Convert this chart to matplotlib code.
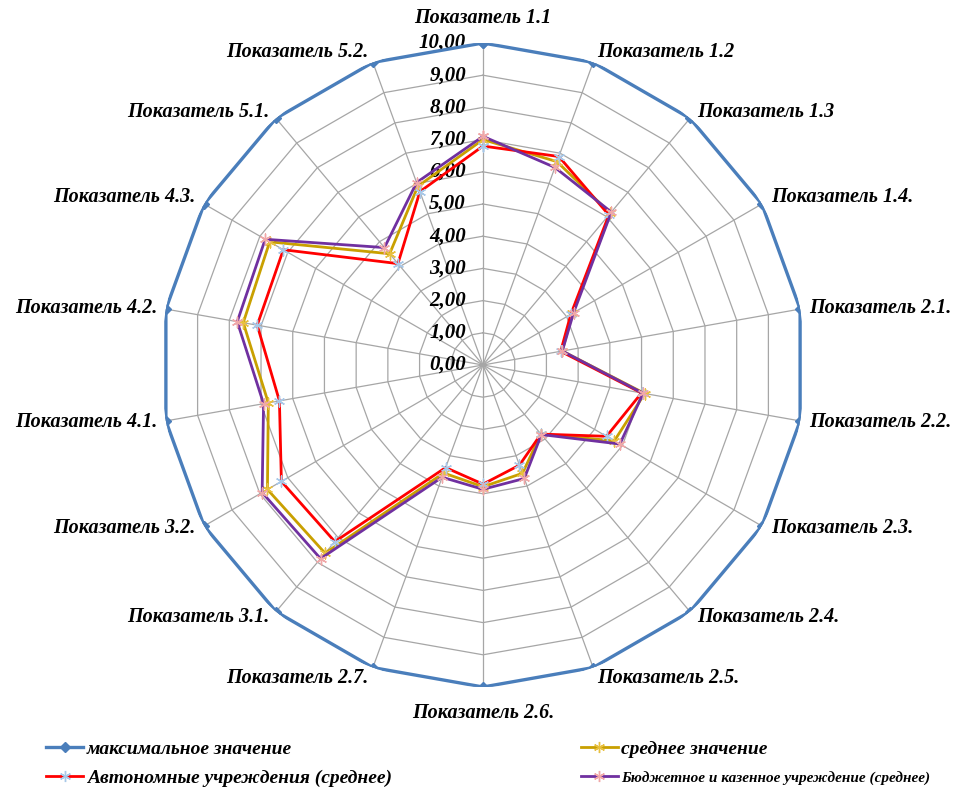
import numpy as np
import matplotlib.pyplot as plt
from matplotlib.lines import Line2D

categories = ["Показатель 1.1", "Показатель 1.2", "Показатель 1.3", "Показатель 1.4.",
              "Показатель 2.1.", "Показатель 2.2.", "Показатель 2.3.", "Показатель 2.4.",
              "Показатель 2.5.", "Показатель 2.6.", "Показатель 2.7.", "Показатель 3.1.",
              "Показатель 3.2.", "Показатель 4.1.", "Показатель 4.2.", "Показатель 4.3.",
              "Показатель 5.1.", "Показатель 5.2."]

max_vals = [10] * 18
avg_vals = [7.0, 6.72, 6.15, 3.2, 2.5, 5.1, 4.71, 2.8, 3.58, 3.78, 3.57, 7.63,
            7.73, 6.77, 7.56, 7.65, 4.51, 5.91]
auto_vals = [6.8, 6.89, 6.08, 3.15, 2.45, 5.0, 4.43, 2.8, 3.31, 3.7, 3.39, 7.16,
             7.23, 6.42, 7.12, 7.16, 4.11, 5.73]
budget_vals = [7.1, 6.53, 6.2, 3.25, 2.5, 5.05, 4.91, 2.82, 3.75, 3.86, 3.71, 7.85,
               7.92, 6.92, 7.75, 7.81, 4.76, 6.03]

levels = list(range(0, 11))
level_labels = ["%d,00" % v for v in levels]

series_names = ["максимальное значение", "среднее значение",
                "Автономные учреждения (среднее)",
                "Бюджетное и казенное учреждение (среднее)"]

n = len(categories)
angles = np.arange(n) * 2 * np.pi / n
closed = np.append(angles, angles[0])

def close(v):
    return list(v) + [v[0]]

fig = plt.figure(figsize=(9.55, 7.89), dpi=100)
ax = fig.add_axes([161 / 955, 102 / 789, 644 / 955, 644 / 789], projection="polar")
ax.set_theta_zero_location("N")
ax.set_theta_direction(-1)
ax.set_ylim(0, 10)
ax.grid(False)
ax.spines["polar"].set_visible(False)
ax.set_xticks([])
ax.set_yticks([])
ax.patch.set_alpha(0)

gray = "#a6a6a6"
for lv in levels[1:]:
    ax.plot(closed, [lv] * (n + 1), color=gray, lw=0.9, zorder=1)
for a in angles:
    ax.plot([a, a], [0, 10], color=gray, lw=0.9, zorder=1)

serif = "Liberation Serif"
for lv, lab in zip(levels, level_labels):
    ax.annotate(lab, (0, lv), xytext=(-17, 0), textcoords="offset pixels",
                ha="right", va="center", fontsize=15, fontweight="bold",
                fontstyle="italic", family=serif, zorder=2)

asterisk = (6, 2, 0)
ax.plot(closed, close(max_vals), color="#4a7ebb", lw=2.4, marker="D", ms=5.5,
        mfc="#4a7ebb", mec="#4a7ebb", zorder=5)
ax.plot(closed, close(avg_vals), color="#c9a000", lw=2.0, marker=asterisk, ms=8,
        mec="#e8c040", zorder=4)
ax.plot(closed, close(auto_vals), color="#ff0000", lw=2.0, marker=asterisk, ms=8,
        mec="#a8c8e8", zorder=4)
ax.plot(closed, close(budget_vals), color="#7030a0", lw=2.0, marker=asterisk, ms=8,
        mec="#f0a8a8", zorder=4)

# category labels outside the outer ring
offsets = {0: (0, 25), 1: (4, 10), 2: (7, 6), 3: (9, 7), 4: (9, 1),
           5: (9, -1), 6: (9, -2), 7: (7, -5), 8: (4, -10), 9: (0, -26)}
for i, (a, lab) in enumerate(zip(angles, categories)):
    if i <= 9:
        dx, dy = offsets[i]
        ha = "center" if i in (0, 9) else "left"
    else:
        dx, dy = offsets[n - i]
        dx = -dx
        ha = "right"
    ax.annotate(lab, (a, 10), xytext=(dx, dy), textcoords="offset pixels",
                ha=ha, va="center", fontsize=14.5, fontweight="bold",
                fontstyle="italic", family=serif, annotation_clip=False)

handles = [
    Line2D([], [], color="#4a7ebb", lw=2.4, marker="D", ms=5, mec="#4a7ebb"),
    Line2D([], [], color="#ff0000", lw=2.0, marker=asterisk, ms=8, mec="#a8c8e8"),
    Line2D([], [], color="#c9a000", lw=2.0, marker=asterisk, ms=8, mec="#e8c040"),
    Line2D([], [], color="#7030a0", lw=2.0, marker=asterisk, ms=8, mec="#f0a8a8"),
]
labels = [series_names[0], series_names[2], series_names[1], series_names[3]]
leg = fig.legend(handles, labels, loc="lower left", bbox_to_anchor=(0.03, -0.02), ncol=2,
                 frameon=False, handlelength=1.9, handletextpad=0.2, columnspacing=9.7,
                 labelspacing=0.6,
                 prop={"family": serif, "style": "italic", "weight": "bold", "size": 14})
# the long label is set narrower in the reference
leg.get_texts()[3].set_fontsize(11)

fig.savefig("out.png", dpi=100)
